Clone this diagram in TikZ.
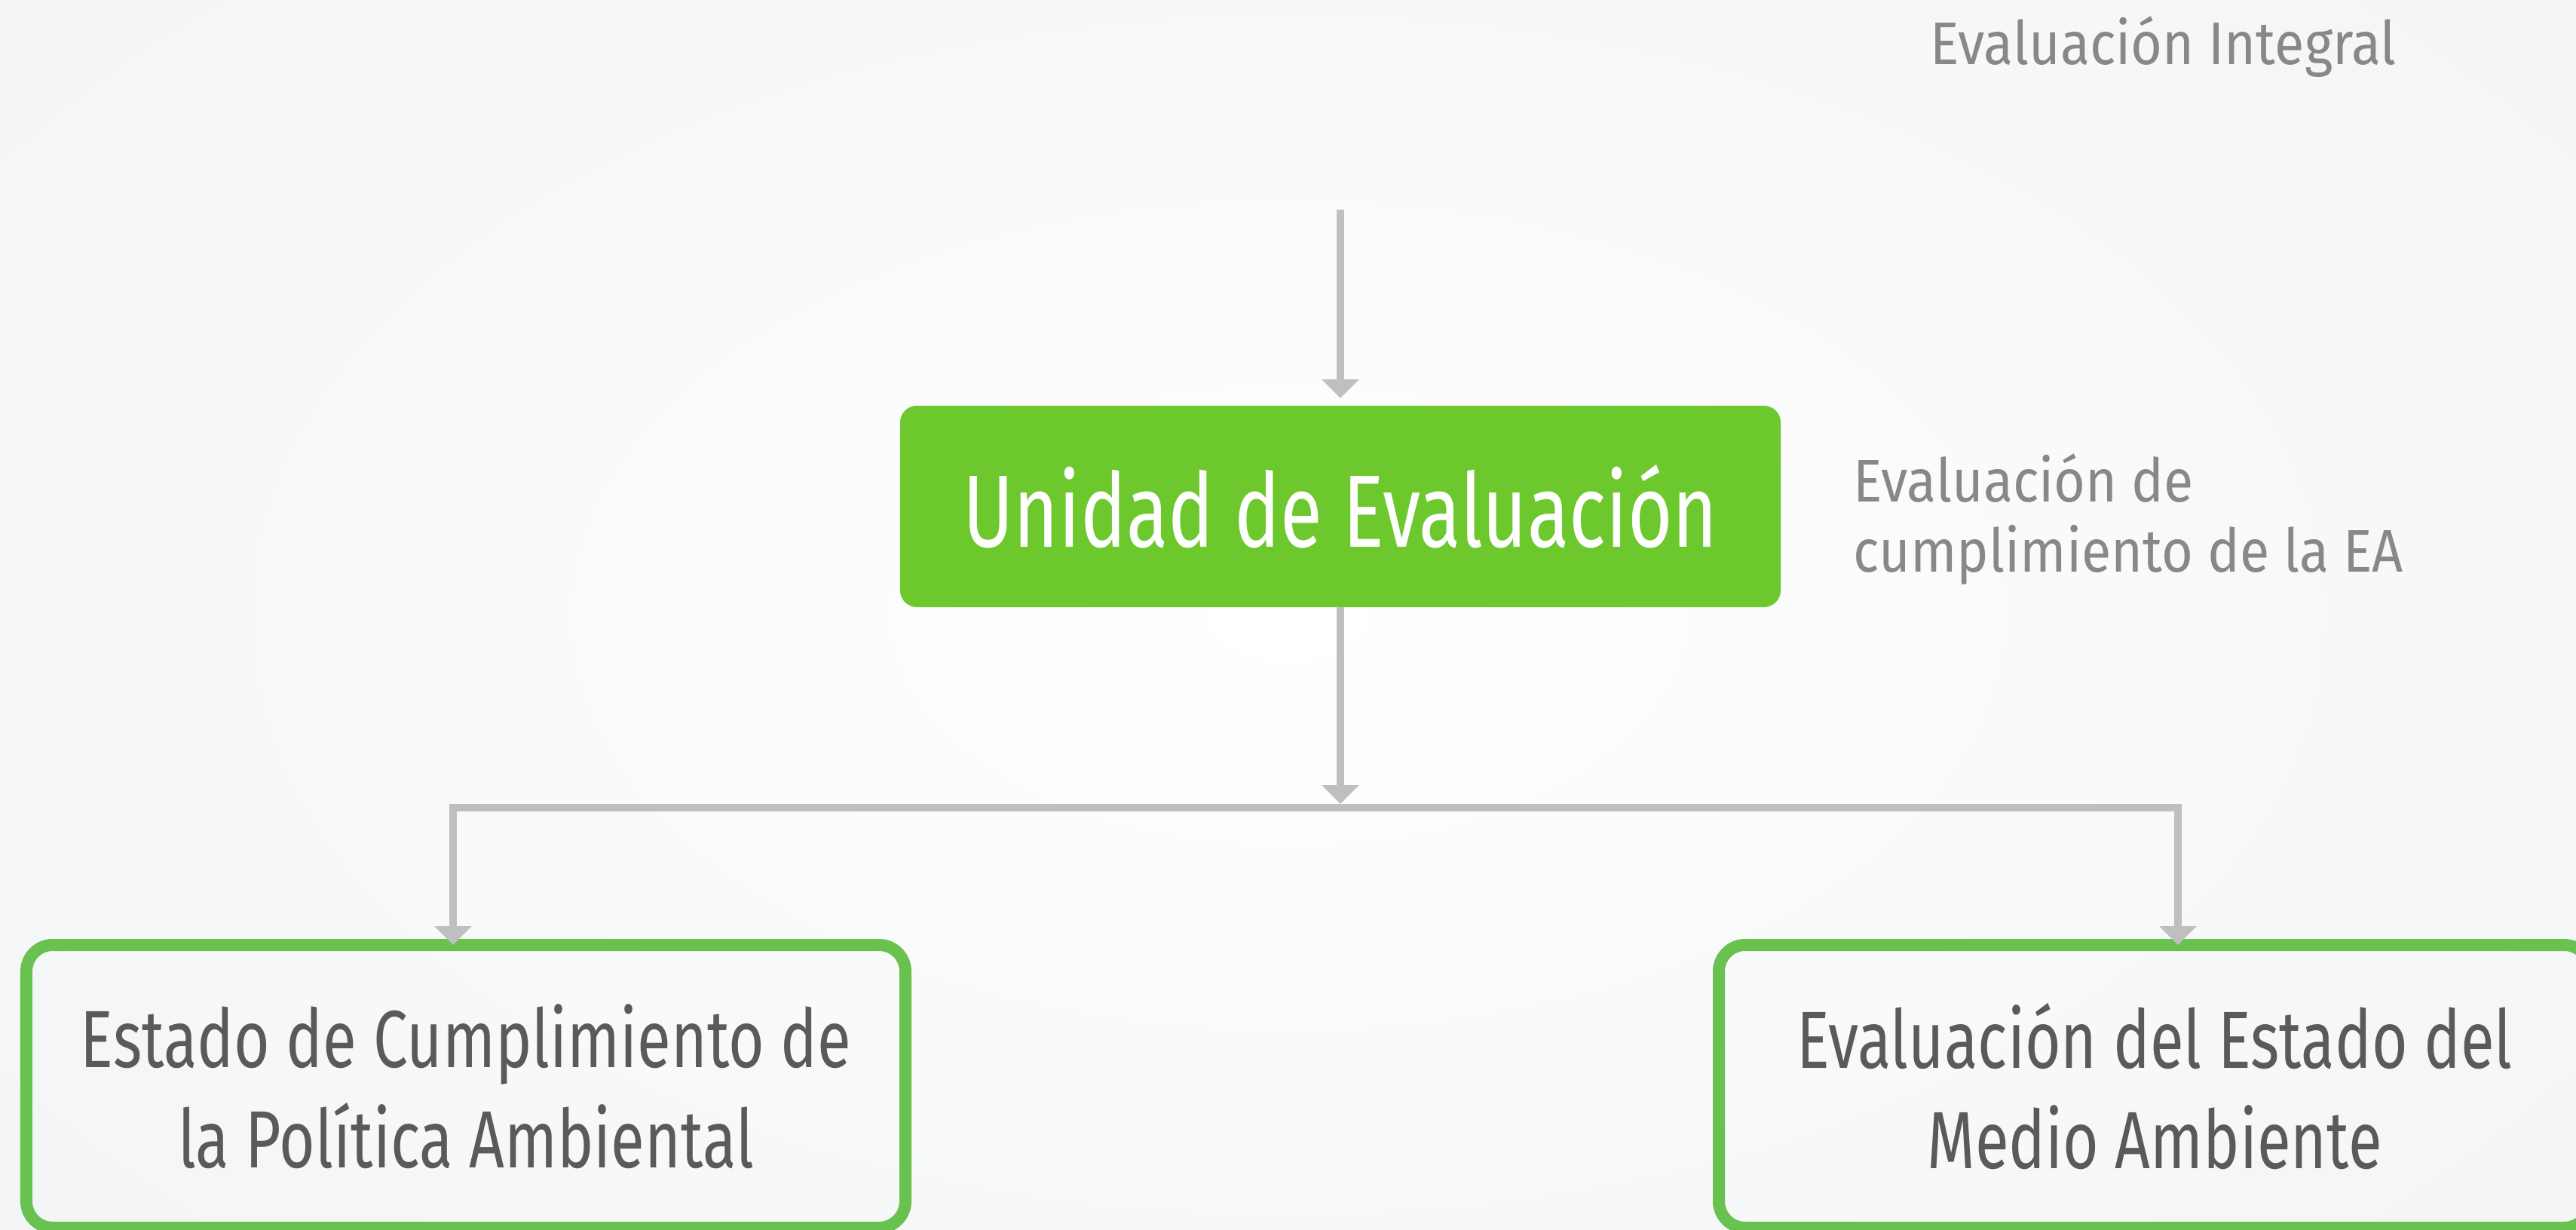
\documentclass[tikz,border=0pt]{standalone}
\usepackage{fontspec}
\setmainfont{Fira Sans}[FakeStretch=0.76]
\newfontfamily\lblfont{Fira Sans}[FakeStretch=0.9]
\newfontfamily\mainfont{Fira Sans}[FakeStretch=0.748]
\usetikzlibrary{arrows.meta,calc}
\definecolor{bgout}{RGB}{243,245,247}
\definecolor{greenfill}{RGB}{108,200,45}
\definecolor{greenline}{RGB}{105,193,80}
\definecolor{arrowgray}{RGB}{191,191,191}
\definecolor{labelgray}{RGB}{136,136,136}
\definecolor{boxtext}{RGB}{90,90,90}
\tikzset{
 conn/.style={draw=arrowgray, line width=0.1cm},
 arr/.style={conn, -{Triangle[width=0.48cm,length=0.25cm]}},
 mainbox/.style={fill=greenfill, rounded corners=0.22cm, minimum width=11.68cm, minimum height=2.67cm, text=white, font=\mainfont\fontsize{38.8}{46}\selectfont, inner sep=0, outer sep=0},
 subbox/.style={draw=greenline, line width=0.16cm, rounded corners=0.35cm, minimum height=3.75cm, align=center, text=boxtext, font=\fontsize{30.6}{37.8}\selectfont, inner sep=0, outer sep=0},
 lbl/.style={text=labelgray, font=\lblfont\fontsize{22.7}{26.4}\selectfont, inner sep=0, align=left}
}
\begin{document}
\begin{tikzpicture}
\useasboundingbox (0,0) rectangle (34.17,-16.31);
\shade[inner color=white, outer color=bgout] (-4,4) rectangle (38.17,-20.31);
\node[lbl, anchor=base west] (toplbl) at (25.60,-0.85) {Evaluación Integral};
\node[mainbox] (unidad) at (17.78,-6.715) {Unidad de Evaluación};
\node[lbl, anchor=base west] (cumpl) at (24.58,-7.58) {Evaluación de\\cumplimiento de la EA};
\node[subbox, minimum width=11.66cm] (estado) at (6.18,-14.405) {Estado de Cumplimiento de\\la Política Ambiental};
\node[subbox, minimum width=11.56cm] (medio) at (28.58,-14.405) {Evaluación del Estado del\\Medio Ambiente};
\coordinate (topstart) at (17.78,-2.78);
\coordinate (jmid) at (17.78,-10.71);
\coordinate (jl) at (6.01,-10.71);
\coordinate (jr) at (28.89,-10.71);
\draw[arr, shorten >=0.1cm] (topstart) -- (unidad.north);
\draw[arr, shorten >=0.05cm] (unidad.south) -- (jmid);
\draw[conn, line cap=rect] (jl) -- (jr);
\draw[arr] (jl) -- (jl |- estado.north);
\draw[arr] (jr) -- (jr |- medio.north);
\end{tikzpicture}
\end{document}
